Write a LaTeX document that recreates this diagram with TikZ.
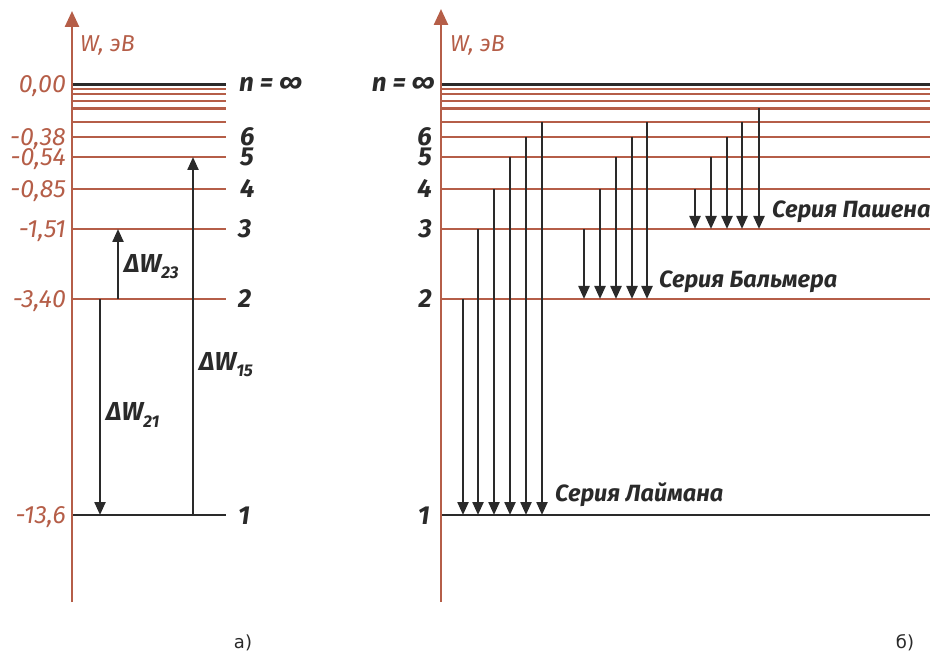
\documentclass[tikz,border=0pt]{standalone}
\usepackage{fontspec}
\setmainfont{Fira Sans}
\newfontfamily\capfont{DejaVu Sans}
\usetikzlibrary{arrows.meta}
\definecolor{brn}{HTML}{B55E48}
\definecolor{blk}{HTML}{2A2A2A}
\begin{document}
\begin{tikzpicture}[x=1pt,y=-1pt,
  lvl/.style={brn,line width=2.4pt},
  lvlk/.style={blk,line width=2.4pt},
  axisline/.style={brn,line width=2.5pt,-{Triangle[length=16pt,width=14pt]}},
  tr/.style={blk,line width=2.3pt,-{Triangle[length=13pt,width=11pt]}},
  val/.style={brn,font=\fontsize{25}{25}\selectfont\itshape,anchor=base east,inner sep=0,text height=16pt,text depth=0pt},
  numl/.style={blk,font=\fontsize{26}{26}\selectfont\bfseries\itshape,anchor=base west,inner sep=0,text height=17pt,text depth=0pt},
  numr/.style={blk,font=\fontsize{26}{26}\selectfont\bfseries\itshape,anchor=base east,inner sep=0,text height=17pt,text depth=0pt},
  ser/.style={blk,font=\fontsize{23.5}{23.5}\selectfont\bfseries\itshape,anchor=base west,inner sep=0},
  dw/.style={blk,font=\fontsize{26}{26}\selectfont\bfseries\itshape,anchor=base west,inner sep=0},
  axlab/.style={brn,font=\fontsize{23}{23}\selectfont\itshape,anchor=base west,inner sep=0},
  figcap/.style={blk,font=\capfont\fontsize{18}{18}\selectfont,anchor=base,inner sep=0},
]
\useasboundingbox (0,0) rectangle (930,652);
\newcommand{\sbs}[1]{\raisebox{-6pt}{\fontsize{17}{17}\selectfont #1}}
% ---------- panel a ----------
\draw[axisline] (72,602) coordinate (aB) -- (72,11) coordinate (aT);
\node[axlab] (aW) at (80,52) {W, эВ};
\foreach \y in {89,94,101,108.5,122,137,157,189,229,299}
  \draw[lvl] (73,\y) -- (226,\y);
\draw[lvlk] (73,84.5) -- (226,84.5);
\draw[lvlk] (73,515) -- (226,515);
\node[val] (v0) at (66,92.5) {0,00};
\node[val] (v6) at (66,145.5) {-0,38};
\node[val] (v5) at (66,165.5) {-0,54};
\node[val] (v4) at (66,197.5) {-0,85};
\node[val] (v3) at (66,237.5) {-1,51};
\node[val] (v2) at (66,307.5) {-3,40};
\node[val] (v1) at (66,523.5) {-13,6};
\node[numl] (ninfa) at (239,92) {n = ∞};
\node[numl] (a6) at (240,146) {6};
\node[numl] (a5) at (240,166) {5};
\node[numl] (a4) at (240,198) {4};
\node[numl] (a3) at (238,238) {3};
\node[numl] (a2) at (238,308) {2};
\node[numl] (a1) at (238,524) {1};
\coordinate (p21s) at (100,299); \coordinate (p21e) at (100,515);
\coordinate (p23s) at (118,299); \coordinate (p23e) at (118,229);
\coordinate (p15s) at (193,515); \coordinate (p15e) at (193,157);
\draw[tr] (p21s) -- (p21e);
\draw[tr] (p23s) -- (p23e);
\draw[tr] (p15s) -- (p15e);
\node[dw] (d23) at (124,273) {ΔW\sbs{23}};
\node[dw] (d21) at (106,421) {ΔW\sbs{21}};
\node[dw] (d15) at (199,371) {ΔW\sbs{15}};
\node[figcap] (ca) at (243,648) {а)};
% ---------- panel b ----------
\draw[axisline] (441,602) coordinate (bB) -- (441,9) coordinate (bT);
\node[axlab] (bW) at (450,52) {W, эВ};
\foreach \y in {89,94,101,108.5,122,137,157,189,229,299}
  \draw[lvl] (442,\y) -- (930,\y);
\draw[lvlk] (442,84.5) -- (930,84.5);
\draw[lvlk] (442,515) -- (930,515);
\node[numr] (ninfb) at (435,92) {n = ∞};
\node[numr] (b6) at (432,146) {6};
\node[numr] (b5) at (432,166) {5};
\node[numr] (b4) at (432,198) {4};
\node[numr] (b3) at (432,238) {3};
\node[numr] (b2) at (432,308) {2};
\node[numr] (b1) at (430,525) {1};
% Lyman
\foreach \x/\y in {463/299,478/229,494/189,510/157,526/137,542/122}
  \draw[tr] (\x,\y) -- (\x,515);
% Balmer
\foreach \x/\y in {584/229,600/189,616/157,632/137,647/122}
  \draw[tr] (\x,\y) -- (\x,299);
% Paschen
\foreach \x/\y in {695/189,711/157,727/137,742/122,759/108.5}
  \draw[tr] (\x,\y) -- (\x,229);
\node[ser] (sP) at (772,218) {Серия Пашена};
\node[ser] (sB) at (659,288) {Серия Бальмера};
\node[ser] (sL) at (555,501) {Серия Лаймана};
\node[figcap] (cb) at (905,648) {б)};
\end{tikzpicture}
\end{document}
